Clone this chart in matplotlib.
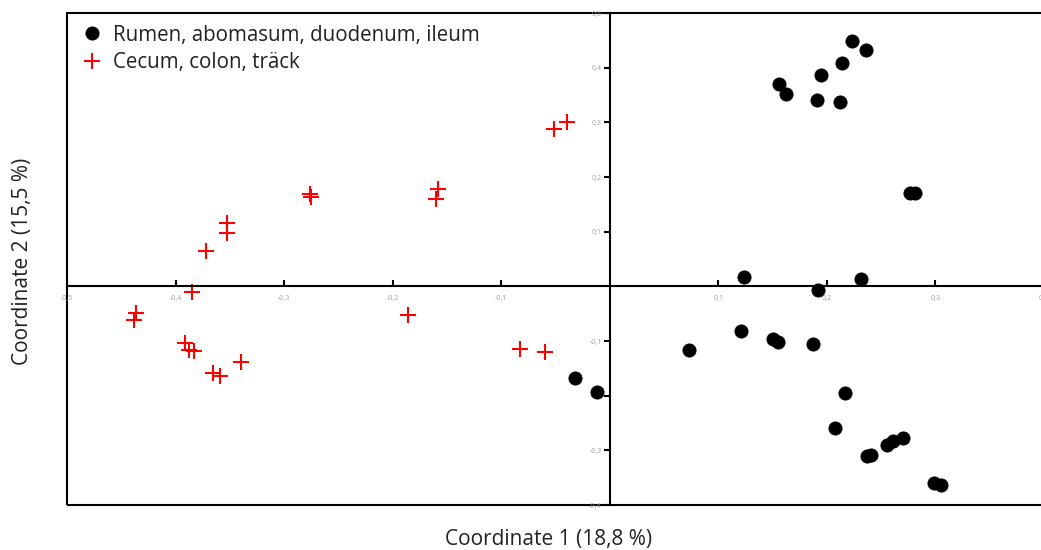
import matplotlib
matplotlib.use("Agg")
import matplotlib.pyplot as plt
from matplotlib.patches import Rectangle
from matplotlib.ticker import FuncFormatter

# Rumen, abomasum, duodenum, ileum (black dots)
upper_x = [0.2235, 0.2364, 0.2142, 0.1948, 0.1560, 0.1625, 0.1911, 0.2124,
           0.2761, 0.2816, 0.1237, 0.2318, 0.1921, 0.1210, 0.1505, 0.1551,
           0.1874, 0.0729, -0.0323, -0.0120, 0.2170, 0.2078, 0.2373, 0.2410,
           0.2558, 0.2613, 0.2705, 0.2982, 0.3047]
upper_y = [0.449, 0.433, 0.409, 0.387, 0.371, 0.351, 0.340, 0.338,
           0.171, 0.171, 0.018, 0.013, -0.007, -0.082, -0.096, -0.102,
           -0.105, -0.116, -0.167, -0.193, -0.196, -0.260, -0.311, -0.309,
           -0.291, -0.282, -0.278, -0.360, -0.364]

# Cecum, colon, träck (red plus)
lower_x = [-0.0397, -0.0517, -0.2761, -0.2752, -0.1579, -0.1597, -0.1856,
           -0.0831, -0.0600, -0.3527, -0.3527, -0.3721, -0.3850, -0.4367,
           -0.4386, -0.3915, -0.3878, -0.3832, -0.3398, -0.3657, -0.3592]
lower_y = [0.300, 0.287, 0.169, 0.164, 0.178, 0.160, -0.053,
           -0.115, -0.120, 0.115, 0.098, 0.065, -0.011, -0.049,
           -0.062, -0.104, -0.116, -0.118, -0.138, -0.158, -0.164]

x_ticks = [-0.5, -0.4, -0.3, -0.2, -0.1, 0.1, 0.2, 0.3, 0.4]
y_ticks = [-0.4, -0.3, -0.2, -0.1, 0.1, 0.2, 0.3, 0.4, 0.5]

plt.rcParams['font.family'] = ['Open Sans', 'DejaVu Sans']

fig = plt.figure(figsize=(10.41, 5.5), dpi=100)
# the plot runs a little past the right edge of the picture
ax = fig.add_axes([0.0644, 0.0818, 0.9385, 0.8945])
ax.set_xlim(-0.5, 0.4)
ax.set_ylim(-0.4, 0.5)

ax.plot(upper_x, upper_y, 'o', color='black', markersize=9.5,
        markeredgewidth=0.6, label='Rumen, abomasum, duodenum, ileum',
        clip_on=False)
ax.plot(lower_x, lower_y, '+', color='red', markersize=12, markeredgewidth=1.5,
        label='Cecum, colon, träck', clip_on=False)

# axes crossing at zero, frame drawn around
for side in ['top', 'right']:
    ax.spines[side].set_visible(False)
ax.spines['left'].set_position(('data', 0))
ax.spines['bottom'].set_position(('data', 0))
ax.spines['left'].set_linewidth(1.5)
ax.spines['bottom'].set_linewidth(1.5)
ax.add_patch(Rectangle((0, 0), 1, 1, transform=ax.transAxes, fill=False,
                       edgecolor='black', linewidth=1.5, clip_on=False))

fmt = FuncFormatter(lambda v, pos: ('%g' % round(v, 1)).replace('.', ','))
ax.set_xticks(x_ticks)
ax.set_yticks(y_ticks)
ax.xaxis.set_major_formatter(fmt)
ax.yaxis.set_major_formatter(fmt)
ax.tick_params(axis='x', direction='in', length=4, width=1.5,
               labelsize=5, labelcolor='#a0a0a0', pad=6)
ax.tick_params(axis='y', direction='out', length=4, width=1.5,
               labelsize=5, labelcolor='#a0a0a0', pad=2)

fig.text(0.527, 0.02, 'Coordinate 1 (18,8 %)', ha='center', va='center',
         fontsize=15, color='#222222')
fig.text(0.022, 0.524, 'Coordinate 2 (15,5 %)', ha='center', va='center',
         rotation=90, fontsize=15, color='#222222')

ax.legend(loc='upper left', frameon=False, fontsize=14.8, handletextpad=0.4,
          borderaxespad=0.4, labelspacing=0.32, handlelength=1.3,
          borderpad=0.16, labelcolor='#222222')

fig.savefig('out.png', dpi=100)
